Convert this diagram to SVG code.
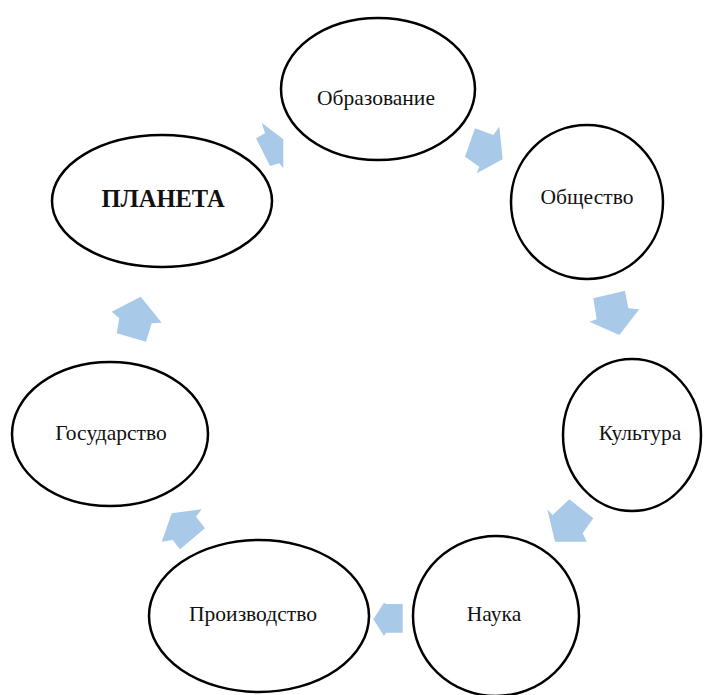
<svg xmlns="http://www.w3.org/2000/svg" width="713" height="695" viewBox="0 0 713 695">
<style>
.n ellipse{fill:#fff;stroke:#000;stroke-width:2.5}
.n text{font-family:"Liberation Serif","Times New Roman",serif;font-size:21.5px;fill:#111;text-anchor:middle}
.n text.b{font-weight:bold;font-size:24.5px}
.c polygon{fill:#a9c9e9;stroke:none}
</style>
<rect width="713" height="695" fill="#fff"/>
<g class="c" id="connectors">
<polygon points="261.7,122.7 265,133.3 256,138.3 270,166 279.3,163.3 283.3,168.3 283.3,139.3"/>
<polygon points="475,128.3 493.3,135 499.3,126.7 502.7,159.3 476.7,173.3 479.3,166.7 465,156.7"/>
<polygon points="593.3,298.3 625,290.7 628.3,308.3 639.3,309.3 619.3,335 589.3,321.7 596.7,319.3"/>
<polygon points="547.3,509.3 552.7,515 569.3,499.3 593.3,518.3 582.7,533.3 586.7,541.7 555,541.7"/>
<polygon points="373.3,619.3 384,602.7 386,604 402.7,604 402.7,632.7 386,632.7 384,636"/>
<polygon points="161.7,541.7 171.7,513.3 201.7,509.3 196,516.7 205,528.3 180,549.3 172.7,540"/>
<polygon points="111.7,311.7 140.7,296.7 161.7,322.7 151.7,323.3 146,341.7 116.7,333.3 119.3,318.3"/>
</g>
<g class="n" id="obrazovanie"><ellipse cx="378" cy="89" rx="97" ry="71"/><text x="376" y="105">Образование</text></g>
<g class="n" id="obshchestvo"><ellipse cx="587" cy="202" rx="76" ry="77"/><text x="587" y="204">Общество</text></g>
<g class="n" id="planeta"><ellipse cx="162" cy="201" rx="110" ry="66"/><text class="b" x="163" y="207">ПЛАНЕТА</text></g>
<g class="n" id="kultura"><ellipse cx="632" cy="435" rx="69" ry="76"/><text x="640" y="440">Культура</text></g>
<g class="n" id="gosudarstvo"><ellipse cx="110" cy="434" rx="98" ry="72"/><text x="111" y="440">Государство</text></g>
<g class="n" id="nauka"><ellipse cx="496" cy="616" rx="83" ry="80"/><text x="494" y="621">Наука</text></g>
<g class="n" id="proizvodstvo"><ellipse cx="259" cy="616" rx="110" ry="76"/><text x="253" y="621">Производство</text></g>
</svg>
